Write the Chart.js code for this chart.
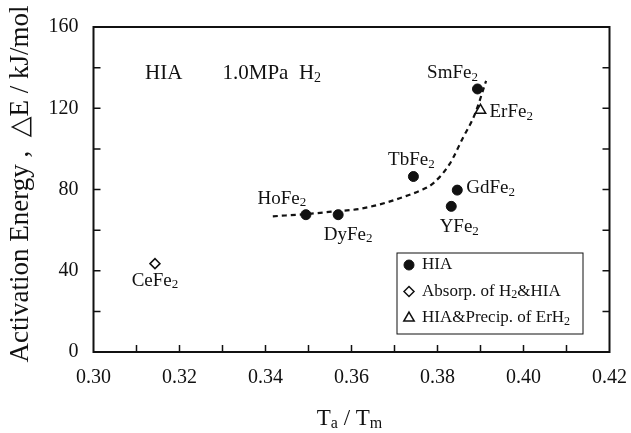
<!DOCTYPE html>
<html>
<head>
<meta charset="utf-8">
<script src="https://cdn.jsdelivr.net/npm/chart.js@4.4.1/dist/chart.umd.min.js"></script>
<style>
  html, body { margin: 0; padding: 0; background: #fff; }
</style>
</head>
<body>
<canvas id="chart" width="631" height="433"></canvas>
<script>
// data
const hiaNames = ['SmFe_{2}', 'TbFe_{2}', 'GdFe_{2}', 'YFe_{2}', 'HoFe_{2}', 'DyFe_{2}'];
const hiaX = [0.3893, 0.3744, 0.3846, 0.3832, 0.3494, 0.3569];
const hiaY = [129.5, 86.4, 79.7, 71.7, 67.6, 67.6];

const absorpNames = ['CeFe_{2}'];
const absorpX = [0.3143];
const absorpY = [43.5];

const precipNames = ['ErFe_{2}'];
const precipX = [0.3900];
const precipY = [119];

// dashed guide curve
const fitX = [0.3417, 0.3500, 0.3560, 0.3620, 0.3680, 0.3712, 0.3760, 0.3789, 0.3828, 0.3859, 0.3886, 0.3913];
const fitY = [66.8, 68.0, 69.2, 70.5, 73.5, 75.7, 79.5, 82.9, 92.5, 105.4, 116.6, 133.5];

const legendLabels = ['HIA', 'Absorp. of H_{2}&HIA', 'HIA&Precip. of ErH_{2}'];
const noteText = ['HIA', '1.0MPa  H_{2}'];
const xTitle = 'T_{a} / T_{m}';
const yTitle = 'Activation Energy ,  \u25B3E / kJ/mol';

const SERIF = '"Liberation Serif", "DejaVu Serif", serif';

// label placement relative to the point (pixels), per name
const labelPos = {
  'SmFe_{2}': [-25, -16, 'center'],
  'TbFe_{2}': [-2, -16, 'center'],
  'GdFe_{2}': [9, -2, 'left'],
  'YFe_{2}': [8, 21, 'center'],
  'HoFe_{2}': [-24, -16, 'center'],
  'DyFe_{2}': [10, 20, 'center'],
  'CeFe_{2}': [0, 17, 'center'],
  'ErFe_{2}': [9, 2, 'left']
};

function toPts(xs, ys) {
  return xs.map((x, i) => ({ x: x, y: ys[i] }));
}

// draws text with _{...} subscripts
function richText(ctx, str, x, y, size, align) {
  const parts = str.split(/_\{([^}]*)\}/);
  const subSize = Math.round(size * 0.68);
  let total = 0;
  parts.forEach((p, i) => {
    ctx.font = (i % 2 ? subSize : size) + 'px ' + SERIF;
    total += ctx.measureText(p).width;
  });
  let cx = x;
  if (align === 'center') cx = x - total / 2;
  if (align === 'right') cx = x - total;
  ctx.textAlign = 'left';
  ctx.textBaseline = 'middle';
  parts.forEach((p, i) => {
    const sub = i % 2 === 1;
    ctx.font = (sub ? subSize : size) + 'px ' + SERIF;
    ctx.fillText(p, cx, sub ? y + size * 0.22 : y);
    cx += ctx.measureText(p).width;
  });
}

const decorPlugin = {
  id: 'decor',
  afterDraw(chart) {
    const ctx = chart.ctx;
    const a = chart.chartArea;
    const xs = chart.scales.x;
    const ys = chart.scales.y;
    ctx.save();
    ctx.fillStyle = '#111';
    ctx.strokeStyle = '#111';

    // frame
    ctx.lineWidth = 2;
    ctx.strokeRect(a.left, a.top, a.right - a.left, a.bottom - a.top);

    // inward ticks
    ctx.lineWidth = 1.5;
    ctx.beginPath();
    for (let k = 1; k < 12; k++) {
      const px = xs.getPixelForValue(0.30 + k * 0.01);
      ctx.moveTo(px, a.bottom);
      ctx.lineTo(px, a.bottom - 7);
    }
    for (let k = 1; k < 8; k++) {
      const py = ys.getPixelForValue(k * 20);
      ctx.moveTo(a.left, py);
      ctx.lineTo(a.left + 7, py);
      ctx.moveTo(a.right, py);
      ctx.lineTo(a.right - 7, py);
    }
    ctx.stroke();

    // point labels
    const sets = [[hiaNames, hiaX, hiaY], [absorpNames, absorpX, absorpY], [precipNames, precipX, precipY]];
    sets.forEach(([names, xv, yv]) => {
      names.forEach((n, i) => {
        const p = labelPos[n];
        const px = xs.getPixelForValue(xv[i]) + p[0];
        const py = ys.getPixelForValue(yv[i]) + p[1];
        richText(ctx, n, px, py, 19, p[2]);
      });
    });

    // condition note
    richText(ctx, noteText[0], xs.getPixelForValue(0.3120), ys.getPixelForValue(137), 21, 'left');
    richText(ctx, noteText[1], xs.getPixelForValue(0.3300), ys.getPixelForValue(137), 21, 'left');

    // legend box
    const lx = 397, ly = 253, lw = 186, lh = 81;
    ctx.lineWidth = 1;
    ctx.strokeRect(lx, ly, lw, lh);
    const styles = chart.data.datasets.slice(0, 3);
    styles.forEach((ds, i) => {
      const cy = ly + 12 + i * 26.5;
      ctx.fillStyle = ds.pointBackgroundColor;
      ctx.strokeStyle = '#111';
      ctx.lineWidth = ds.pointBorderWidth;
      Chart.helpers.drawPoint(ctx, {
        pointStyle: ds.pointStyle, radius: ds.pointRadius, rotation: 0, borderWidth: ds.pointBorderWidth
      }, lx + 12, cy);
      ctx.fillStyle = '#111';
      richText(ctx, legendLabels[i], lx + 25, cy, 17, 'left');
    });

    // axis titles
    richText(ctx, xTitle, (a.left + a.right) / 2 - 2, 419, 23, 'center');
    ctx.save();
    ctx.translate(21, 184);
    ctx.rotate(-Math.PI / 2);
    richText(ctx, yTitle, 0, 0, 27, 'center');
    ctx.restore();

    ctx.restore();
  }
};

new Chart(document.getElementById('chart'), {
  type: 'scatter',
  data: {
    datasets: [
      {
        label: 'HIA',
        data: toPts(hiaX, hiaY),
        pointStyle: 'circle',
        pointRadius: 5,
        pointBackgroundColor: '#111',
        pointBorderColor: '#111',
        pointBorderWidth: 1
      },
      {
        label: 'Absorp. of H2&HIA',
        data: toPts(absorpX, absorpY),
        pointStyle: 'rectRot',
        pointRadius: 5,
        pointBackgroundColor: '#fff',
        pointBorderColor: '#111',
        pointBorderWidth: 1.5
      },
      {
        label: 'HIA&Precip. of ErH2',
        data: toPts(precipX, precipY),
        pointStyle: 'triangle',
        pointRadius: 6,
        pointBackgroundColor: '#fff',
        pointBorderColor: '#111',
        pointBorderWidth: 1.5
      },
      {
        label: 'fit',
        type: 'line',
        data: toPts(fitX, fitY),
        borderColor: '#111',
        borderWidth: 2.2,
        borderDash: [5, 4],
        pointRadius: 0,
        fill: false,
        cubicInterpolationMode: 'monotone'
      }
    ]
  },
  options: {
    responsive: false,
    animation: false,
    devicePixelRatio: 1,
    layout: { padding: { left: 0, right: 21.5, top: 20, bottom: 0 } },
    plugins: {
      legend: { display: false },
      tooltip: { enabled: false }
    },
    scales: {
      x: {
        type: 'linear',
        min: 0.30,
        max: 0.42,
        grid: { display: false, drawTicks: false },
        border: { display: false },
        ticks: {
          stepSize: 0.02,
          padding: 14,
          color: '#111',
          font: { family: SERIF, size: 20 },
          callback: v => v.toFixed(2)
        },
        afterFit: s => { s.height = 81; s.paddingLeft = 0; s.paddingRight = 0; }
      },
      y: {
        min: 0,
        max: 160,
        grid: { display: false, drawTicks: false },
        border: { display: false },
        ticks: {
          stepSize: 40,
          padding: 15,
          color: '#111',
          font: { family: SERIF, size: 20 }
        },
        afterFit: s => { s.width = 93.5; }
      }
    }
  },
  plugins: [decorPlugin]
});
</script>
</body>
</html>
